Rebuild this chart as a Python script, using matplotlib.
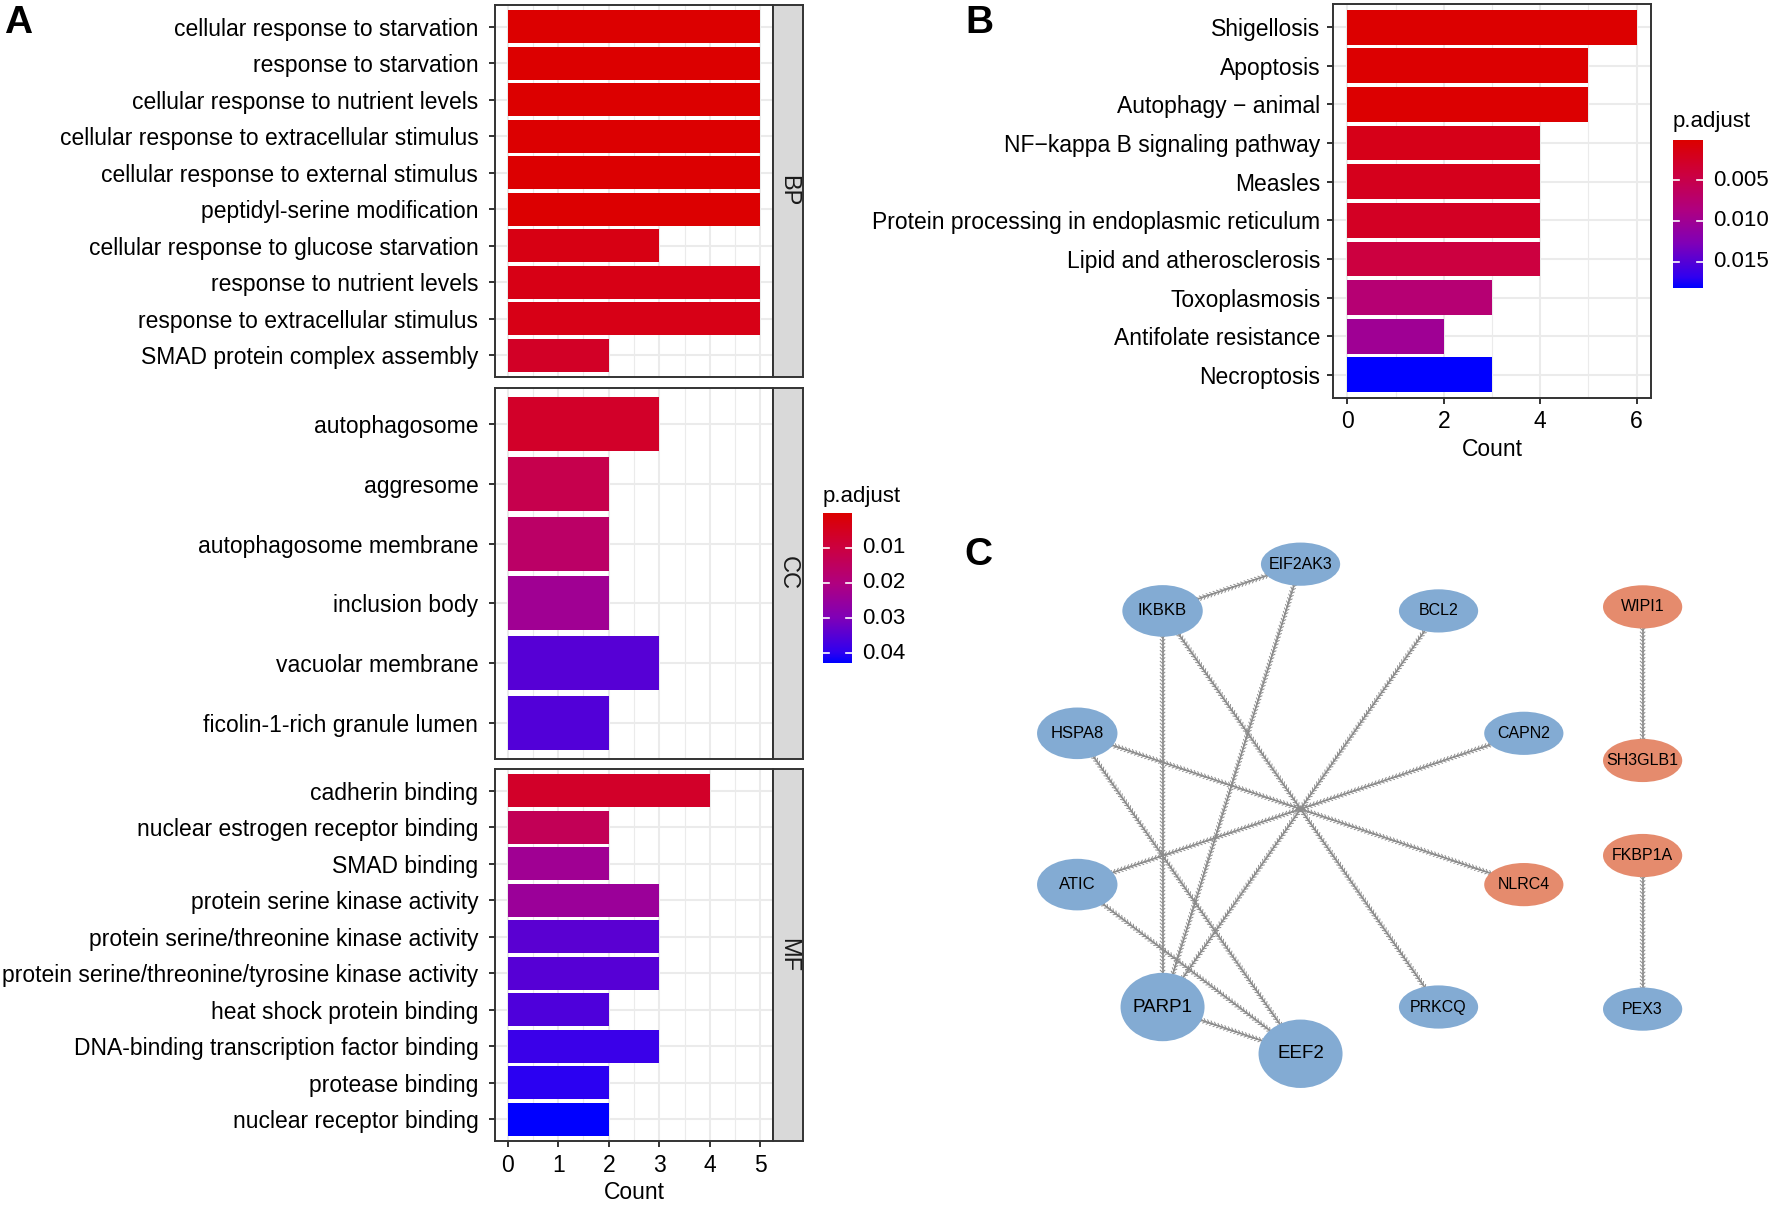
import numpy as np
import matplotlib
matplotlib.use("Agg")
import matplotlib.pyplot as plt
import matplotlib.patheffects as pe
from matplotlib.colors import LinearSegmentedColormap, Normalize
from matplotlib.patches import Ellipse

plt.rcParams['font.family'] = ['Liberation Sans', 'DejaVu Sans']

# ---- A: GO enrichment (BP / CC / MF) ----
bp_terms = ["cellular response to starvation", "response to starvation",
            "cellular response to nutrient levels", "cellular response to extracellular stimulus",
            "cellular response to external stimulus", "peptidyl-serine modification",
            "cellular response to glucose starvation", "response to nutrient levels",
            "response to extracellular stimulus", "SMAD protein complex assembly"]
bp_count = [5, 5, 5, 5, 5, 5, 3, 5, 5, 2]
bp_padj = [0.0001, 0.0002, 0.0002, 0.0003, 0.0003, 0.0004, 0.0030, 0.0033, 0.0035, 0.0060]

cc_terms = ["autophagosome", "aggresome", "autophagosome membrane", "inclusion body",
            "vacuolar membrane", "ficolin-1-rich granule lumen"]
cc_count = [3, 2, 2, 2, 3, 2]
cc_padj = [0.0065, 0.0120, 0.0160, 0.0235, 0.0350, 0.0355]

mf_terms = ["cadherin binding", "nuclear estrogen receptor binding", "SMAD binding",
            "protein serine kinase activity", "protein serine/threonine kinase activity",
            "protein serine/threonine/tyrosine kinase activity", "heat shock protein binding",
            "DNA-binding transcription factor binding", "protease binding", "nuclear receptor binding"]
mf_count = [4, 2, 2, 3, 3, 3, 2, 3, 2, 2]
mf_padj = [0.0065, 0.0135, 0.0235, 0.0245, 0.0345, 0.0350, 0.0360, 0.0385, 0.0400, 0.0428]

# ---- B: KEGG ----
kegg_terms = ["Shigellosis", "Apoptosis", "Autophagy \u2212 animal", "NF\u2212kappa B signaling pathway",
              "Measles", "Protein processing in endoplasmic reticulum", "Lipid and atherosclerosis",
              "Toxoplasmosis", "Antifolate resistance", "Necroptosis"]
kegg_count = [6, 5, 5, 4, 4, 4, 4, 3, 2, 3]
kegg_padj = [0.0001, 0.0002, 0.0002, 0.0017, 0.0020, 0.0025, 0.0043, 0.0077, 0.0101, 0.0182]

# ---- C: PPI network ----
ring_genes = ["EIF2AK3", "BCL2", "CAPN2", "NLRC4", "PRKCQ", "EEF2", "PARP1", "ATIC", "HSPA8", "IKBKB"]
pair_genes = ["WIPI1", "SH3GLB1", "FKBP1A", "PEX3"]
up_genes = ["NLRC4", "WIPI1", "SH3GLB1", "FKBP1A"]
gene_level = {"PARP1": 3, "EEF2": 3, "IKBKB": 2, "HSPA8": 2, "ATIC": 2}
edges = [("IKBKB", "EIF2AK3"), ("EIF2AK3", "PARP1"), ("IKBKB", "PARP1"), ("IKBKB", "PRKCQ"),
         ("BCL2", "PARP1"), ("CAPN2", "ATIC"), ("HSPA8", "NLRC4"), ("HSPA8", "EEF2"),
         ("ATIC", "EEF2"), ("PARP1", "EEF2"), ("WIPI1", "SH3GLB1"), ("FKBP1A", "PEX3")]

# red -> blue gradient as it appears in the figure
red_blue = LinearSegmentedColormap.from_list(
    "p_adjust", [(0.0, "#DC0000"), (0.23, "#CC0040"), (0.47, "#B00080"),
                 (0.70, "#8000B8"), (0.93, "#3000F0"), (1.0, "#0000FF")])

W, H = 1772, 1205


def px(x0, y0, x1, y1):
    return [x0 / W, 1 - y1 / H, (x1 - x0) / W, (y1 - y0) / H]


fig = plt.figure(figsize=(W / 100, H / 100), dpi=100)


def bar_panel(rect, terms, counts, padj, norm, xlim, major, minor, show_x, ypad=5):
    ax = fig.add_axes(rect)
    n = len(terms)
    y = np.arange(n)
    ax.barh(y, counts, height=0.9, color=red_blue(norm(np.array(padj))), zorder=2)
    ax.set_xlim(*xlim)
    ax.set_ylim(n - 0.4, -0.6)
    ax.set_yticks(y, terms)
    ax.set_xticks(major)
    ax.set_xticks(minor, minor=True)
    ax.set_axisbelow(True)
    ax.grid(True, which='major', color='#EBEBEB', lw=1.5)
    ax.grid(True, which='minor', axis='x', color='#EBEBEB', lw=0.8)
    ax.tick_params(which='major', length=4, width=1.4, color='#333333', labelsize=16.5, pad=5)
    ax.tick_params(axis='y', pad=ypad)
    ax.tick_params(which='minor', length=0)
    if not show_x:
        ax.tick_params(axis='x', labelbottom=False, length=0)
    for s in ax.spines.values():
        s.set_color('#333333')
        s.set_linewidth(1.4)
    return ax


def strip(rect, label):
    sx = fig.add_axes(rect)
    sx.set_facecolor('#D9D9D9')
    sx.set_xticks([])
    sx.set_yticks([])
    for s in sx.spines.values():
        s.set_color('#333333')
        s.set_linewidth(1.4)
    sx.text(0.5, 0.5, label, rotation=-90, ha='center', va='center', fontsize=17,
            color='#1A1A1A', transform=sx.transAxes)


def colorbar(rect, title_x, title_y, norm, ticks, labels):
    cax = fig.add_axes(rect)
    grad = np.linspace(norm.vmin, norm.vmax, 300).reshape(-1, 1)
    cax.imshow(grad, cmap=red_blue, norm=norm, aspect='auto', origin='upper',
               extent=[0, 1, norm.vmax, norm.vmin])
    for v in ticks:
        cax.plot([0, 0.2], [v, v], color='white', lw=1.2)
        cax.plot([0.8, 1], [v, v], color='white', lw=1.2)
    for v, lab_ in zip(ticks, labels):
        cax.text(1.35, v, lab_, ha='left', va='center', fontsize=16)
    cax.set_xlim(0, 1)
    cax.set_ylim(norm.vmax, norm.vmin)
    cax.axis('off')
    fig.text(title_x / W, 1 - title_y / H, 'p.adjust', fontsize=16, va='baseline', ha='left')


# panel A
go_norm = Normalize(min(bp_padj + cc_padj + mf_padj), max(bp_padj + cc_padj + mf_padj))
facets = [("BP", bp_terms, bp_count, bp_padj, 5, 377),
          ("CC", cc_terms, cc_count, cc_padj, 388, 759),
          ("MF", mf_terms, mf_count, mf_padj, 769, 1141)]
for name, terms, counts, padj, y0, y1 in facets:
    ax = bar_panel(px(495, y0, 773, y1), terms, counts, padj, go_norm, (-0.25, 5.25),
                   range(6), np.arange(0.5, 5, 1), name == "MF", ypad=8)
    strip(px(773, y0, 803, y1), name)
ax.set_xlabel("Count", fontsize=16.5, labelpad=3)
colorbar(px(823, 513, 852, 663), 823, 502, go_norm, [0.01, 0.02, 0.03, 0.04],
         ["0.01", "0.02", "0.03", "0.04"])

# panel B
kegg_norm = Normalize(min(kegg_padj), max(kegg_padj))
bx = bar_panel(px(1333, 4, 1651, 398), kegg_terms, kegg_count, kegg_padj, kegg_norm, (-0.3, 6.3),
               [0, 2, 4, 6], [1, 3, 5], True)
bx.set_xlabel("Count", fontsize=16.5, labelpad=3)
colorbar(px(1673, 140, 1703, 288), 1673, 127, kegg_norm, [0.005, 0.010, 0.015],
         ["0.005", "0.010", "0.015"])

# panel C: circular layout for the main component, stacked pairs on the right
nx = fig.add_axes(px(1000, 520, 1772, 1120))
nx.set_xlim(-1.252, 1.964)
nx.set_ylim(-1.296, 1.204)
nx.axis('off')

pos = {}
ang = np.deg2rad(90 - 360 / len(ring_genes) * np.arange(len(ring_genes)))
for g, a in zip(ring_genes, ang):
    pos[g] = (0.978 * np.cos(a), 1.02 * np.sin(a))
for i in range(0, len(pair_genes), 2):
    top = 0.842 - (i // 2) * 1.036
    pos[pair_genes[i]] = (1.425, top)
    pos[pair_genes[i + 1]] = (1.425, top - 0.64)

fx = [pe.Normal(),
      pe.TickedStroke(spacing=2.6, angle=135, length=0.9, linewidth=0.7),
      pe.TickedStroke(spacing=2.6, angle=-135, length=0.9, linewidth=0.7)]
for a, b in edges:
    nx.plot([pos[a][0], pos[b][0]], [pos[a][1], pos[b][1]], color='#8C8C8C', lw=1.2,
            path_effects=fx, zorder=1)

node_size = {1: (0.33, 0.18), 2: (0.335, 0.215), 3: (0.35, 0.285)}
label_size = {1: 11.5, 2: 12, 3: 13.5}
for g, (x, y) in pos.items():
    lvl = gene_level.get(g, 1)
    w, h = node_size[lvl]
    col = '#E58B6D' if g in up_genes else '#83ABD3'
    nx.add_patch(Ellipse((x, y), w, h, facecolor=col, edgecolor='none', zorder=3))
    nx.text(x, y, g, ha='center', va='center', fontsize=label_size[lvl], zorder=4)

# panel letters
fig.text(4 / W, 1 - 33 / H, "A", fontsize=28, fontweight='bold', va='baseline')
fig.text(965 / W, 1 - 33 / H, "B", fontsize=28, fontweight='bold', va='baseline')
fig.text(964 / W, 1 - 565 / H, "C", fontsize=28, fontweight='bold', va='baseline')

fig.savefig("out.png", dpi=100)
